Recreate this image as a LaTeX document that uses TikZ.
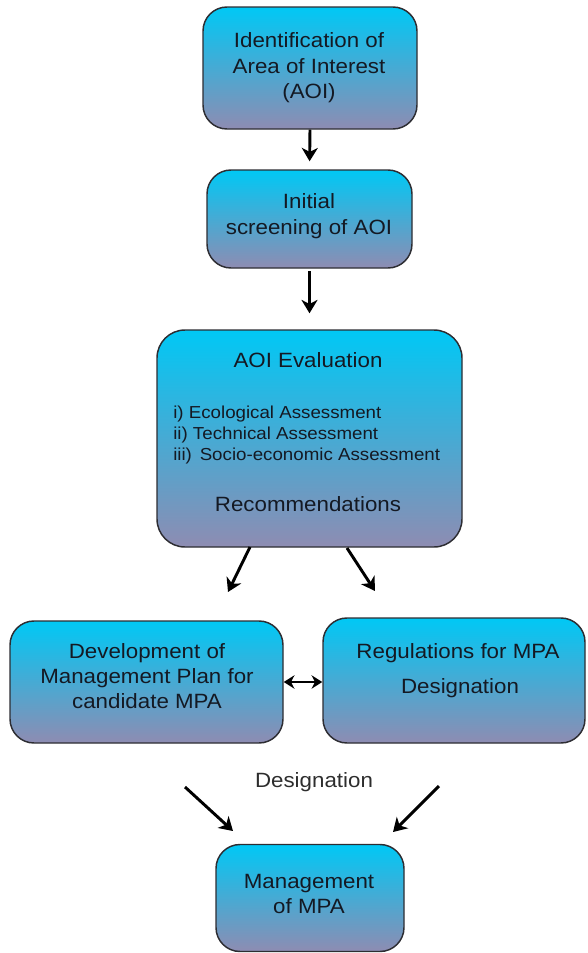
\documentclass[tikz,border=0pt]{standalone}
\usepackage{fontspec}
\setmainfont{Liberation Sans}[FakeStretch=1.08]
\usetikzlibrary{arrows.meta}

\definecolor{topcyan}{RGB}{0,200,245}
\definecolor{botlav}{RGB}{142,140,178}
\definecolor{edgegrey}{RGB}{45,45,50}
\definecolor{ink}{RGB}{20,25,35}
\definecolor{labelgrey}{RGB}{45,45,45}

\begin{document}
\begin{tikzpicture}[x=0.75pt,y=-0.75pt,
  box/.style={draw=edgegrey,line width=1.1pt,rounded corners=18pt,
              top color=topcyan,bottom color=botlav,inner sep=0pt},
  big/.style={font=\fontsize{15.5}{18.75}\selectfont,text=ink,anchor=base,inner sep=0pt},
  small/.style={font=\fontsize{13}{15}\selectfont,text=ink,anchor=base west,inner sep=0pt},
  flow/.style={line width=2.2pt,-{Stealth[length=10pt,width=12pt,inset=3pt]}},
  link/.style={line width=2pt,{Stealth[length=8pt,width=10pt,inset=2.5pt]}-{Stealth[length=8pt,width=10pt,inset=2.5pt]}},
]
\useasboundingbox (0,0) rectangle (587,953);

% boxes
\node[box,minimum width=160.5pt,minimum height=91.5pt] (aoi) at (310,68) {};
\node[box,minimum width=153.75pt,minimum height=73.5pt] (screen) at (309.5,219) {};
\node[box,rounded corners=21pt,minimum width=228.75pt,minimum height=162.75pt] (eval) at (309.5,438.5) {};
\node[box,minimum width=204.75pt,minimum height=91.5pt] (dev) at (146.5,682) {};
\node[box,minimum width=196.5pt,minimum height=93.75pt] (reg) at (454,680.5) {};
\node[box,minimum width=141pt,minimum height=80.25pt] (mgmt) at (310,898) {};

% box texts
\node[big] (t1a) at (309,47) {Identification of};
\node[big] (t1b) at (309,73) {Area of Interest};
\node[big] (t1c) at (309,98) {(AOI)};

\node[big] (t2a) at (309,208) {Initial};
\node[big] (t2b) at (309,234) {screening of AOI};

\node[big] (t3a) at (308,367) {AOI Evaluation};
\node[small] (t3b) at (173,418) {i) Ecological Assessment};
\node[small] (t3c) at (173,439) {ii) Technical Assessment};
\node[small] (t3d) at (173,460) {iii)\hspace{0.45em}Socio-economic Assessment};
\node[big] (t3e) at (308,511) {Recommendations};

\node[big] (t4a) at (147,658) {Development of};
\node[big] (t4b) at (147,683) {Management Plan for};
\node[big] (t4c) at (147,708) {candidate MPA};

\node[big] (t5a) at (458,658) {Regulations for MPA};
\node[big] (t5b) at (460,693) {Designation};

\node[big] (t6a) at (309,888) {Management};
\node[big] (t6b) at (309,913) {of MPA};

\node[big,text=labelgrey] (desig) at (314,787) {Designation};

% arrow end points
\coordinate (e1s) at (250,547);
\coordinate (e1e) at (228,592);
\coordinate (e2s) at (347,548);
\coordinate (e2e) at (375,591);
\coordinate (m1s) at (185,787);
\coordinate (m1e) at (233,831);
\coordinate (m2s) at (439,786);
\coordinate (m2e) at (393,832);

% connectors
\draw[flow,shorten >=6pt] (aoi.south) -- (screen.north);
\draw[flow,shorten <=2pt,shorten >=12pt] (screen.south) -- (eval.north);
\draw[flow] (e1s) -- (e1e);
\draw[flow] (e2s) -- (e2e);
\draw[link] (dev.east) -- (dev.east -| reg.west);
\draw[flow] (m1s) -- (m1e);
\draw[flow] (m2s) -- (m2e);
\end{tikzpicture}
\end{document}
